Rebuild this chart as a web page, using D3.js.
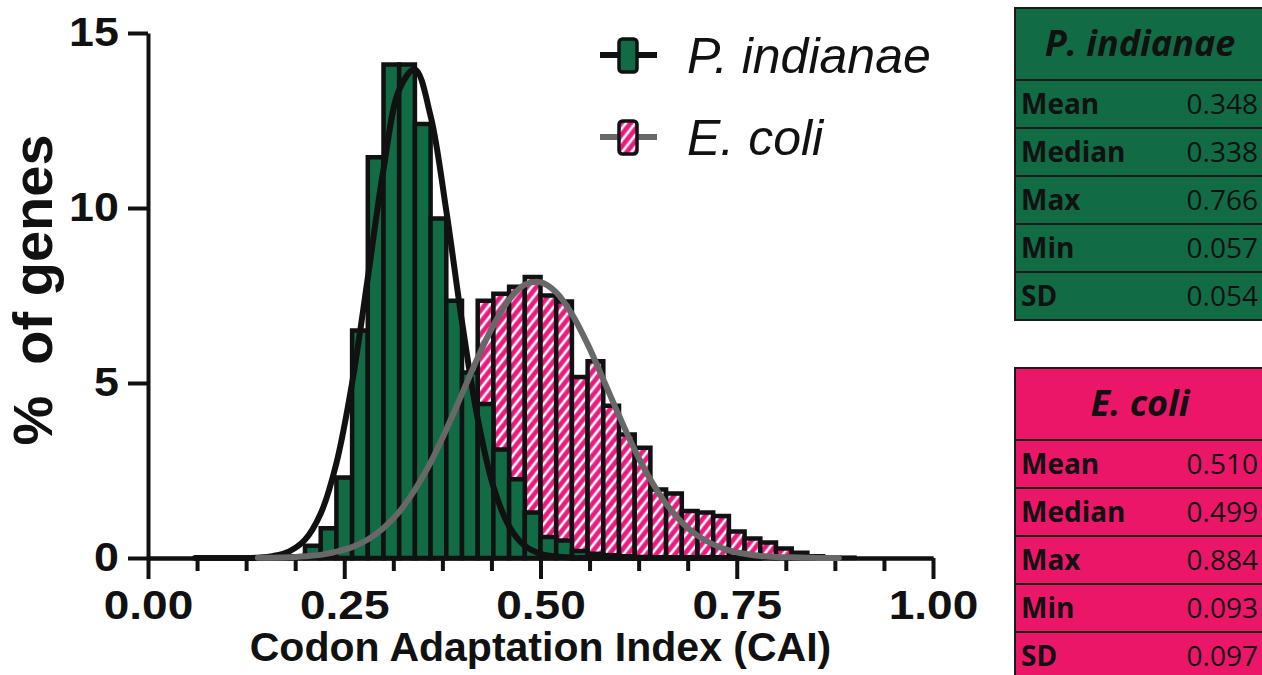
<!DOCTYPE html>
<html>
<head>
<meta charset="utf-8">
<script src="https://cdn.jsdelivr.net/npm/d3@7"></script>
<style>
  html, body { margin: 0; padding: 0; background: #fff; }
  svg { display: block; }
</style>
</head>
<body>
<div id="graph"></div>
<script>
'use strict';

// --- data -----------------------------------------------------------------
// centre of each 0.02 wide CAI bin
let BIN_CENTERS = [0.07, 0.09, 0.11, 0.13, 0.15, 0.17, 0.19, 0.21, 0.23, 0.25,
    0.27, 0.29, 0.31, 0.33, 0.35, 0.37, 0.39, 0.41, 0.43, 0.45,
    0.47, 0.49, 0.51, 0.53, 0.55, 0.57, 0.59, 0.61, 0.63, 0.65,
    0.67, 0.69, 0.71, 0.73, 0.75, 0.77, 0.79, 0.81, 0.83, 0.85,
    0.87, 0.89];
let BIN_WIDTH = 0.02;

// % of genes per bin (null = outside the data range)
let INDIANAE_PCT = [0, 0, 0, 0, 0, 0, 0.05, 0.35, 0.85, 2.3,
    6.5, 11.45, 14.1, 14.1, 12.4, 9.7, 7.35, 5.3, 4.4, 3.1,
    2.25, 1.3, 0.6, 0.5, 0.2, 0.12, 0.08, 0.05, 0.03, 0.02,
    0.02, 0.01, 0.01, 0, 0, 0.01, null, null, null, null,
    null, null];
let COLI_PCT = [null, 0.01, 0.01, 0.01, 0.02, 0.03, 0.05, 0.1, 0.18, 0.3,
    0.5, 0.75, 1.1, 1.6, 2.2, 3.0, 3.9, 5.0, 7.35, 7.55,
    7.75, 8.03, 7.5, 7.33, 5.17, 5.62, 4.35, 3.53, 3.15, 1.96,
    1.84, 1.34, 1.3, 1.2, 0.76, 0.56, 0.44, 0.27, 0.15, 0.05,
    0.02, 0.01];

// gaussian fit curves
let INDIANAE_FIT_X = [0.06, 0.08, 0.10, 0.12, 0.14, 0.16, 0.18, 0.20, 0.22, 0.24,
    0.26, 0.28, 0.30, 0.32, 0.34, 0.36, 0.38, 0.40, 0.42, 0.44,
    0.46, 0.48, 0.50, 0.52, 0.54, 0.56, 0.60, 0.66, 0.72, 0.78];
let INDIANAE_FIT_Y = [0, 0, 0, 0, 0.01, 0.06, 0.19, 0.52, 1.27, 2.71,
    5.0, 8.0, 11.1, 13.38, 13.96, 12.63, 9.92, 6.75, 3.98, 2.04,
    0.91, 0.35, 0.12, 0.04, 0.01, 0, 0, 0, 0, 0];
let COLI_FIT_X = [0.14, 0.16, 0.18, 0.20, 0.22, 0.24, 0.26, 0.28, 0.30, 0.32,
    0.34, 0.36, 0.38, 0.40, 0.42, 0.44, 0.46, 0.48, 0.50, 0.52,
    0.54, 0.56, 0.58, 0.60, 0.62, 0.64, 0.66, 0.68, 0.70, 0.72,
    0.74, 0.76, 0.78, 0.80, 0.82, 0.84, 0.86, 0.88];
let COLI_FIT_Y = [0.01, 0.01, 0.02, 0.05, 0.09, 0.18, 0.31, 0.53, 0.86, 1.32,
    1.95, 2.73, 3.67, 4.69, 5.72, 6.65, 7.38, 7.81, 7.88, 7.59,
    6.97, 6.11, 5.10, 4.07, 3.09, 2.24, 1.55, 1.02, 0.64, 0.39,
    0.22, 0.12, 0.06, 0.03, 0.02, 0.01, 0, 0];

let X_TICKS = [0, 0.25, 0.5, 0.75, 1];
let X_MINOR_TICKS = [0.0625, 0.125, 0.1875, 0.3125, 0.375, 0.4375,
    0.5625, 0.625, 0.6875, 0.8125, 0.875, 0.9375];
let Y_TICKS = [0, 5, 10, 15];

let STAT_NAMES = ['Mean', 'Median', 'Max', 'Min', 'SD'];
let INDIANAE_STATS = ['0.348', '0.338', '0.766', '0.057', '0.054'];
let COLI_STATS = ['0.510', '0.499', '0.884', '0.093', '0.097'];

// --- look ------------------------------------------------------------------
let WIDTH = 1262;
let HEIGHT = 675;
let PLOT = { left: 148, right: 933, top: 33, bottom: 558 };

let GREEN = '#116b45';
let PINK = '#ec1a80';
let TABLE_PINK = '#ec1668';
let GREY = '#686868';
let INK = '#111';
let AXIS_FONT = '"Liberation Sans", Arial, sans-serif';
let TABLE_FONT = '"Open Sans", sans-serif';

let x = d3.scaleLinear().domain([0, 1]).range([PLOT.left, PLOT.right]);
let y = d3.scaleLinear().domain([0, 15]).range([PLOT.bottom, PLOT.top]);

function visualize () {
    let svg = d3.select('#graph')
        .append('svg')
        .attr('width', WIDTH)
        .attr('height', HEIGHT)
        .style('background', '#fff');

    makeHatch(svg);

    drawBars(svg, COLI_PCT, 'url(#hatch)', 'coli-bars');
    drawBars(svg, INDIANAE_PCT, GREEN, 'indianae-bars');
    drawAxes(svg);
    drawFit(svg, INDIANAE_FIT_X, INDIANAE_FIT_Y, INK);
    drawFit(svg, COLI_FIT_X, COLI_FIT_Y, GREY);
    makeLabels(svg);
    drawLegend(svg);

    drawStatsTable(svg, 8, 'P. indianae', INDIANAE_STATS, GREEN);
    drawStatsTable(svg, 368, 'E. coli', COLI_STATS, TABLE_PINK);
}

function makeHatch (svg) {
    let pat = svg.append('defs')
        .append('pattern')
        .attr('id', 'hatch')
        .attr('patternUnits', 'userSpaceOnUse')
        .attr('width', 7.4)
        .attr('height', 7.4)
        .attr('patternTransform', 'rotate(38)');

    pat.append('rect')
        .attr('width', 7.4)
        .attr('height', 7.4)
        .attr('fill', PINK);

    pat.append('line')
        .attr('x1', 3.7).attr('y1', -1)
        .attr('x2', 3.7).attr('y2', 8.4)
        .attr('stroke', '#fff')
        .attr('stroke-width', 2.6);
}

function drawBars (svg, values, fill, cls) {
    let bins = BIN_CENTERS
        .map((c, i) => ({ c: c, v: values[i] }))
        .filter(d => d.v !== null);

    let barPath = d => {
        let x0 = x(d.c - BIN_WIDTH / 2);
        let x1 = x(d.c + BIN_WIDTH / 2);
        return `M${x0},${y(0)}V${y(d.v)}H${x1}V${y(0)}Z`;
    };

    svg.append('g')
        .attr('class', cls)
        .selectAll('path')
        .data(bins)
        .enter()
        .append('path')
        .attr('d', barPath)
        .attr('fill', fill)
        .attr('stroke', INK)
        .attr('stroke-width', 4.5);
}

function drawFit (svg, xs, ys, color) {
    let line = d3.line()
        .x(d => x(d[0]))
        .y(d => y(d[1]))
        .curve(d3.curveCatmullRom);

    svg.append('path')
        .datum(xs.map((v, i) => [v, ys[i]]))
        .attr('d', line)
        .attr('fill', 'none')
        .attr('stroke', color)
        .attr('stroke-width', 6)
        .attr('stroke-linecap', 'round');
}

function drawAxes (svg) {
    let xMinor = d3.axisBottom(x)
        .tickValues(X_MINOR_TICKS)
        .tickSize(13)
        .tickSizeOuter(0)
        .tickFormat('');

    let xAxis = d3.axisBottom(x)
        .tickValues(X_TICKS)
        .tickSize(21)
        .tickSizeOuter(0)
        .tickPadding(12)
        .tickFormat(d3.format('.2f'));

    let yAxis = d3.axisLeft(y)
        .tickValues(Y_TICKS)
        .tickSize(20)
        .tickSizeOuter(0)
        .tickPadding(6);

    svg.append('g')
        .attr('transform', 'translate(0,' + PLOT.bottom + ')')
        .call(xMinor);

    // the figure is a little wider than tall, so the digits are stretched
    svg.append('g')
        .attr('transform', 'translate(0,' + PLOT.bottom + ')')
        .call(xAxis)
        .selectAll('text')
        .style('font-size', '40px')
        .attr('transform', 'scale(1.15,1)');

    svg.append('g')
        .attr('transform', 'translate(' + PLOT.left + ',0)')
        .call(yAxis)
        .selectAll('text')
        .style('font-size', '40px')
        .attr('transform', 'scale(1.12,1)');

    svg.selectAll('.domain, .tick line')
        .attr('stroke', INK)
        .attr('stroke-width', 4);

    svg.selectAll('.tick text')
        .attr('fill', INK)
        .style('font-family', AXIS_FONT)
        .style('font-weight', 'bold');
}

function makeLabels (svg) {
    svg.append('text')
        .attr('x', (PLOT.left + PLOT.right) / 2)
        .attr('y', 661)
        .attr('text-anchor', 'middle')
        .style('font-family', AXIS_FONT)
        .style('font-weight', 'bold')
        .style('font-size', '41px')
        .attr('fill', INK)
        .text('Codon Adaptation Index (CAI)');

    svg.append('text')
        .attr('transform', 'translate(52,290) rotate(-90)')
        .attr('text-anchor', 'middle')
        .style('font-family', AXIS_FONT)
        .style('font-weight', 'bold')
        .style('font-size', '56px')
        .style('white-space', 'pre')
        .attr('fill', INK)
        .text('%\u00a0 of genes');
}

function drawLegend (svg) {
    let items = [
        { name: 'P. indianae', line: INK, fill: GREEN, y: 55 },
        { name: 'E. coli', line: GREY, fill: 'url(#hatch)', y: 137 },
    ];

    let g = svg.append('g').attr('class', 'legend');

    let rows = g.selectAll('g')
        .data(items)
        .enter()
        .append('g')
        .attr('transform', d => `translate(0,${d.y})`);

    rows.append('line')
        .attr('x1', 600).attr('x2', 657)
        .attr('stroke', d => d.line)
        .attr('stroke-width', 6);

    rows.append('rect')
        .attr('x', 619).attr('y', -16)
        .attr('width', 18).attr('height', 33)
        .attr('rx', 3.5)
        .attr('fill', d => d.fill)
        .attr('stroke', INK)
        .attr('stroke-width', 3.5);

    rows.append('text')
        .attr('x', 687)
        .attr('y', 18)
        .style('font-family', AXIS_FONT)
        .style('font-style', 'italic')
        .style('font-size', '50px')
        .attr('fill', INK)
        .text(d => d.name);
}

function drawStatsTable (svg, top, title, values, fill) {
    let left = 1015;
    let headH = 72;
    let rowH = 48;
    let g = svg.append('g').attr('class', 'stats');

    g.append('rect')
        .attr('x', left).attr('y', top)
        .attr('width', 280)
        .attr('height', headH + rowH * STAT_NAMES.length)
        .attr('fill', fill)
        .attr('stroke', '#1a1a1a')
        .attr('stroke-width', 2);

    g.selectAll('line')
        .data(STAT_NAMES)
        .enter()
        .append('line')
        .attr('x1', left).attr('x2', WIDTH)
        .attr('y1', (d, i) => top + headH + i * rowH)
        .attr('y2', (d, i) => top + headH + i * rowH)
        .attr('stroke', '#1a1a1a')
        .attr('stroke-width', 2);

    g.append('text')
        .attr('x', 1140)
        .attr('y', top + 48)
        .attr('text-anchor', 'middle')
        .style('font-family', TABLE_FONT)
        .style('font-weight', 'bold')
        .style('font-style', 'italic')
        .style('font-size', '36px')
        .attr('fill', INK)
        .text(title);

    g.selectAll('.stat-name')
        .data(STAT_NAMES)
        .enter()
        .append('text')
        .attr('class', 'stat-name')
        .attr('x', 1021)
        .attr('y', (d, i) => top + headH + i * rowH + 34)
        .style('font-family', TABLE_FONT)
        .style('font-weight', 'bold')
        .style('font-size', '28px')
        .attr('fill', INK)
        .text(d => d);

    g.selectAll('.stat-value')
        .data(values)
        .enter()
        .append('text')
        .attr('class', 'stat-value')
        .attr('x', 1258)
        .attr('y', (d, i) => top + headH + i * rowH + 34)
        .attr('text-anchor', 'end')
        .style('font-family', TABLE_FONT)
        .style('font-size', '28px')
        .attr('fill', INK)
        .text(d => d);
}

visualize();
</script>
</body>
</html>
